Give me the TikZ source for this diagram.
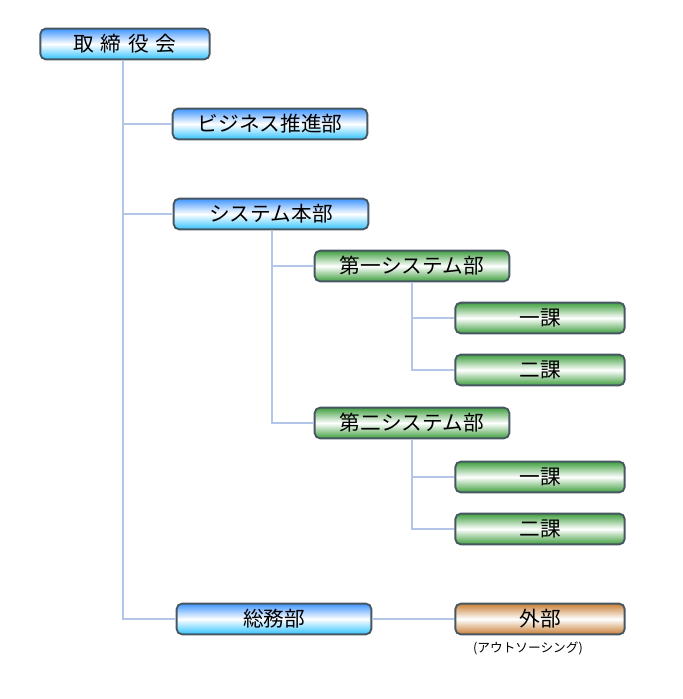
\documentclass[tikz,border=0pt]{standalone}
\usepackage{fontspec}
\setmainfont{Noto Sans CJK JP}
\usetikzlibrary{positioning}
\tikzset{
  box/.style={draw=cyan!30!black, line width=1.4pt, rounded corners=4pt, minimum height=23pt,
    font=\fontsize{15.5}{18}\selectfont, inner sep=0pt},
  bluebox/.style={box, top color=blue!55!cyan!75!white, bottom color=cyan!70!blue!80!white, middle color=white},
  greenbox/.style={box, top color=green!50!black!75!white, bottom color=green!50!black!75!white, middle color=white},
  brownbox/.style={box, top color=brown!85!orange, bottom color=brown!85!orange, middle color=white},
  link/.style={draw=cyan!50!blue!30!white, line width=1.5pt}
}
\begin{document}
\begin{tikzpicture}[x=0.75pt,y=-0.75pt]
\useasboundingbox (0,0) rectangle (682,699);
\node (top) at (125,44) [bluebox, minimum width=127pt] {取\hspace{5pt}締\hspace{5pt}役\hspace{5pt}会};
\node (biz) at (270,124) [bluebox, minimum width=146pt] {ビジネス推進部};
\node (sys) at (271,214) [bluebox, minimum width=146pt] {システム本部};
\node (s1) at (412,266) [greenbox, minimum width=146pt] {第一システム部};
\node (s1a) at (540,318) [greenbox, minimum width=127pt] {一課};
\node (s1b) at (540,370) [greenbox, minimum width=127pt] {二課};
\node (s2) at (412,423) [greenbox, minimum width=146pt] {第二システム部};
\node (s2a) at (540,477) [greenbox, minimum width=127pt] {一課};
\node (s2b) at (540,529) [greenbox, minimum width=127pt] {二課};
\node (gen) at (274,619) [bluebox, minimum width=146pt] {総務部};
\node (ext) at (540,619) [brownbox, minimum width=127pt] {外部};
\node (out) at (528,648) [font=\fontsize{9.5}{11}\selectfont, inner sep=0pt] {(アウトソーシング)};

\coordinate (t0) at (123,619);
\coordinate (t1) at (272,423);
\coordinate (t2) at (412,370);
\coordinate (t3) at (412,529);

\draw[link] (123,60) -- (t0) -- (gen);
\draw[link] (biz.west) -- (123,124);
\draw[link] (sys.west) -- (123,214);
\draw[link] (272,230) -- (t1) -- (s2);
\draw[link] (s1.west) -- (272,266);
\draw[link] (412,282) -- (t2) -- (s1b);
\draw[link] (s1a.west) -- (412,318);
\draw[link] (412,439) -- (t3) -- (s2b);
\draw[link] (s2a.west) -- (412,477);
\draw[link] (gen) -- (ext);
\end{tikzpicture}
\end{document}
